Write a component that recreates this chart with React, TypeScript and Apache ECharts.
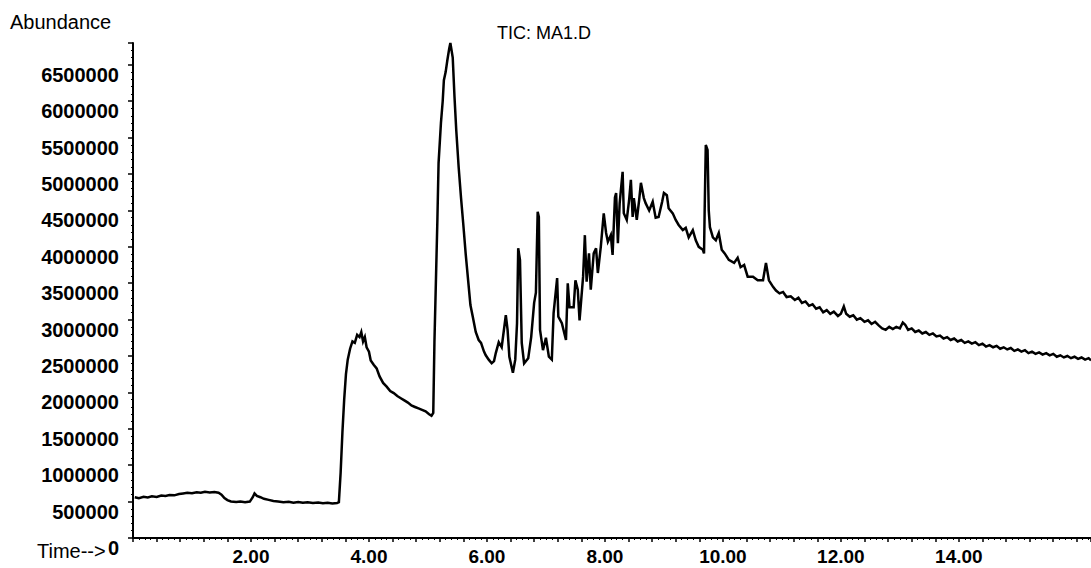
import React, { useEffect, useRef } from "react";
import * as echarts from "echarts";

// Retention time (min)
const times: number[] = [
  0.03, 0.10, 0.18, 0.25, 0.32, 0.40, 0.48, 0.55, 0.62, 0.70, 0.78, 0.85, 0.92, 1.00, 1.08, 1.15, 1.22, 1.30, 1.38, 1.45,
  1.50, 1.55, 1.60, 1.66, 1.75, 1.82, 1.90, 1.98, 2.03, 2.06, 2.10, 2.16, 2.22, 2.30, 2.38, 2.46, 2.55, 2.64, 2.72, 2.80,
  2.88, 2.96, 3.05, 3.14, 3.22, 3.30, 3.38, 3.46, 3.49,
  3.52, 3.55, 3.58, 3.61, 3.64, 3.68, 3.72, 3.76, 3.80, 3.84, 3.87, 3.90, 3.93, 3.96, 4.00, 4.03, 4.08, 4.13, 4.18, 4.24,
  4.30, 4.36, 4.42, 4.48, 4.54, 4.60, 4.66, 4.72, 4.78, 4.84, 4.90, 4.96, 5.02, 5.06, 5.09, 5.11, 5.14, 5.16, 5.18, 5.22,
  5.25, 5.27, 5.30, 5.33, 5.36, 5.38, 5.40, 5.42, 5.45, 5.48, 5.52, 5.56, 5.60, 5.64, 5.68, 5.72, 5.76, 5.81, 5.86, 5.90,
  5.95, 5.98, 6.03, 6.08, 6.12, 6.15, 6.20, 6.25, 6.32, 6.35, 6.38, 6.44, 6.48, 6.51, 6.53, 6.56, 6.59, 6.63, 6.70, 6.75,
  6.80, 6.83, 6.86, 6.88, 6.90, 6.95, 7.00, 7.05, 7.10, 7.13, 7.19, 7.21, 7.27, 7.34, 7.37, 7.40, 7.47, 7.50, 7.54, 7.57,
  7.63, 7.66, 7.69, 7.73, 7.76, 7.81, 7.85, 7.88, 7.93, 7.98, 8.02, 8.05, 8.10, 8.13, 8.17, 8.19, 8.22, 8.25, 8.30, 8.32,
  8.37, 8.41, 8.44, 8.47, 8.49, 8.54, 8.58, 8.61, 8.66, 8.69, 8.75, 8.81, 8.86, 8.91, 8.97, 9.00, 9.05, 9.08, 9.15, 9.20,
  9.25, 9.32, 9.37, 9.42, 9.49, 9.54, 9.59, 9.66, 9.68, 9.69, 9.71, 9.74, 9.76, 9.78, 9.83, 9.88, 9.93, 9.98, 10.03, 10.10,
  10.19, 10.25, 10.30, 10.36, 10.42, 10.51, 10.59, 10.68, 10.73, 10.78, 10.85, 10.90, 10.96, 11.02, 11.08, 11.15, 11.22, 11.28, 11.34, 11.40,
  11.46, 11.52, 11.58, 11.64, 11.70, 11.76, 11.82, 11.88, 11.95, 12.00, 12.05, 12.09, 12.15, 12.21, 12.27, 12.33, 12.40, 12.46, 12.52, 12.58,
  12.64, 12.70, 12.76, 12.82, 12.88, 12.94, 13.00, 13.05, 13.09, 13.14, 13.20, 13.26, 13.32, 13.38, 13.44, 13.50, 13.56, 13.62, 13.68, 13.74,
  13.80, 13.86, 13.92, 13.98, 14.04, 14.10, 14.16, 14.22, 14.28, 14.34, 14.40, 14.46, 14.52, 14.58, 14.64, 14.70, 14.76, 14.82, 14.88, 14.94,
  15.00, 15.06, 15.12, 15.18, 15.24, 15.30, 15.36, 15.42, 15.48, 15.54, 15.60, 15.66, 15.72, 15.78, 15.84, 15.90, 15.96, 16.02, 16.08, 16.14,
  16.20, 16.24,
];

// Total ion current abundance
const abundance: number[] = [
  560000, 548000, 566000, 558000, 572000, 565000, 584000, 578000, 590000, 586000, 604000, 612000, 620000, 614000, 628000, 622000, 634000, 626000, 632000, 622000,
  596000, 548000, 520000, 502000, 494000, 500000, 490000, 500000, 560000, 612000, 578000, 560000, 538000, 524000, 508000, 500000, 492000, 498000, 486000, 494000,
  484000, 490000, 480000, 488000, 478000, 484000, 474000, 480000, 492000,
  900000, 1450000, 1900000, 2250000, 2450000, 2600000, 2700000, 2680000, 2790000, 2760000, 2830000, 2700000, 2760000, 2620000, 2560000, 2440000, 2380000, 2330000, 2220000, 2130000,
  2080000, 2020000, 1990000, 1950000, 1920000, 1890000, 1860000, 1820000, 1800000, 1780000, 1760000, 1740000, 1700000, 1680000, 1720000, 2690000, 3700000, 4370000, 5150000, 5700000,
  6000000, 6290000, 6400000, 6570000, 6720000, 6800000, 6700000, 6600000, 6060000, 5600000, 5100000, 4680000, 4300000, 3900000, 3550000, 3200000, 3040000, 2830000, 2720000, 2680000,
  2560000, 2510000, 2450000, 2400000, 2430000, 2540000, 2690000, 2620000, 3060000, 2860000, 2490000, 2270000, 2450000, 2950000, 3980000, 3820000, 2680000, 2400000, 2470000, 2760000,
  3230000, 3370000, 4480000, 4410000, 2860000, 2580000, 2750000, 2490000, 2450000, 3090000, 3570000, 3040000, 2950000, 2720000, 3500000, 3170000, 3170000, 3540000, 3410000, 2990000,
  3590000, 4160000, 3520000, 3910000, 3410000, 3910000, 3980000, 3640000, 4000000, 4460000, 4190000, 4070000, 4160000, 3890000, 4680000, 4740000, 4050000, 4600000, 5030000, 4460000,
  4370000, 4640000, 4920000, 4410000, 4670000, 4370000, 4640000, 4880000, 4670000, 4600000, 4500000, 4620000, 4400000, 4410000, 4620000, 4740000, 4710000, 4530000, 4460000, 4370000,
  4300000, 4230000, 4260000, 4130000, 4230000, 4090000, 4000000, 3960000, 3910000, 4460000, 5400000, 5330000, 4500000, 4270000, 4130000, 4090000, 4190000, 3960000, 3910000, 3820000,
  3780000, 3850000, 3720000, 3750000, 3590000, 3590000, 3540000, 3540000, 3780000, 3540000, 3450000, 3400000, 3360000, 3380000, 3310000, 3320000, 3270000, 3300000, 3230000, 3250000,
  3190000, 3210000, 3150000, 3170000, 3100000, 3130000, 3080000, 3110000, 3050000, 3080000, 3180000, 3080000, 3040000, 3060000, 3000000, 3020000, 2970000, 2990000, 2940000, 2970000,
  2920000, 2880000, 2860000, 2900000, 2870000, 2900000, 2880000, 2960000, 2930000, 2860000, 2880000, 2830000, 2850000, 2810000, 2830000, 2790000, 2810000, 2770000, 2780000, 2740000,
  2760000, 2720000, 2740000, 2700000, 2720000, 2680000, 2700000, 2670000, 2690000, 2650000, 2670000, 2630000, 2650000, 2620000, 2640000, 2600000, 2620000, 2590000, 2610000, 2570000,
  2590000, 2560000, 2580000, 2540000, 2560000, 2530000, 2550000, 2520000, 2540000, 2510000, 2530000, 2490000, 2510000, 2480000, 2500000, 2470000, 2490000, 2460000, 2480000, 2450000,
  2470000, 2440000,
];

// Labelled x ticks (min)
const xLabelValues: number[] = [2, 4, 6, 8, 10, 12, 14];

const TITLE = "TIC: MA1.D";
const Y_NAME = "Abundance";
const X_NAME = "Time-->";

export default function App() {
  const ref = useRef<HTMLDivElement>(null);

  useEffect(() => {
    if (!ref.current) return;
    const chart = echarts.init(ref.current, undefined, { renderer: "svg" });
    const data = times.map((t, i) => [t, abundance[i]]);
    const font = "Liberation Sans, Arial, sans-serif";

    chart.setOption({
      animation: false,
      backgroundColor: "#ffffff",
      grid: { left: 133, right: 0, top: 43, bottom: 30, containLabel: false },
      xAxis: {
        type: "value",
        min: 0,
        max: 16.24,
        interval: 0.4,
        axisLine: { show: true, onZero: false, lineStyle: { color: "#000", width: 2 } },
        axisTick: { show: true, length: 4, lineStyle: { color: "#000", width: 1.5 } },
        minorTick: { show: true, splitNumber: 4, length: 2, lineStyle: { color: "#000", width: 1 } },
        splitLine: { show: false },
        axisLabel: {
          margin: 9,
          color: "#000",
          fontSize: 19,
          fontWeight: "bold",
          fontFamily: font,
          showMinLabel: false,
          showMaxLabel: false,
          formatter: (v: number) => {
            const hit = xLabelValues.find((x) => Math.abs(x - v) < 1e-6);
            return hit !== undefined ? hit.toFixed(2) : "";
          },
        },
      },
      yAxis: {
        type: "value",
        min: 0,
        max: 6800000,
        interval: 500000,
        axisLine: { show: true, lineStyle: { color: "#000", width: 2 } },
        axisTick: { show: true, length: 5, lineStyle: { color: "#000", width: 1.5 } },
        minorTick: { show: true, splitNumber: 5, length: 2, lineStyle: { color: "#000", width: 1 } },
        splitLine: { show: false },
        axisLabel: {
          margin: 14,
          color: "#000",
          fontSize: 20,
          fontWeight: "bold",
          fontFamily: font,
          verticalAlign: "top",
          formatter: (v: number) => (Math.abs(v % 500000) < 1e-6 ? String(Math.round(v)) : ""),
        },
      },
      series: [
        {
          type: "line",
          data,
          symbol: "none",
          showSymbol: false,
          clip: true,
          lineStyle: { color: "#000", width: 2.5, join: "miter" },
        },
      ],
      graphic: [
        {
          type: "text",
          x: 10,
          y: 22,
          style: { text: Y_NAME, fill: "#000", fontSize: 20, fontFamily: font, align: "left", verticalAlign: "middle" },
        },
        {
          type: "text",
          x: 544,
          y: 33,
          style: { text: TITLE, fill: "#000", fontSize: 18, fontFamily: font, align: "center", verticalAlign: "middle" },
        },
        {
          type: "text",
          x: 37,
          y: 551,
          style: { text: X_NAME, fill: "#000", fontSize: 20, fontFamily: font, align: "left", verticalAlign: "middle" },
        },
      ],
    });

    return () => chart.dispose();
  }, []);

  return (
    <div
      ref={ref}
      style={{ position: "fixed", left: 0, top: 0, width: 1091, height: 568, background: "#fff" }}
    />
  );
}
